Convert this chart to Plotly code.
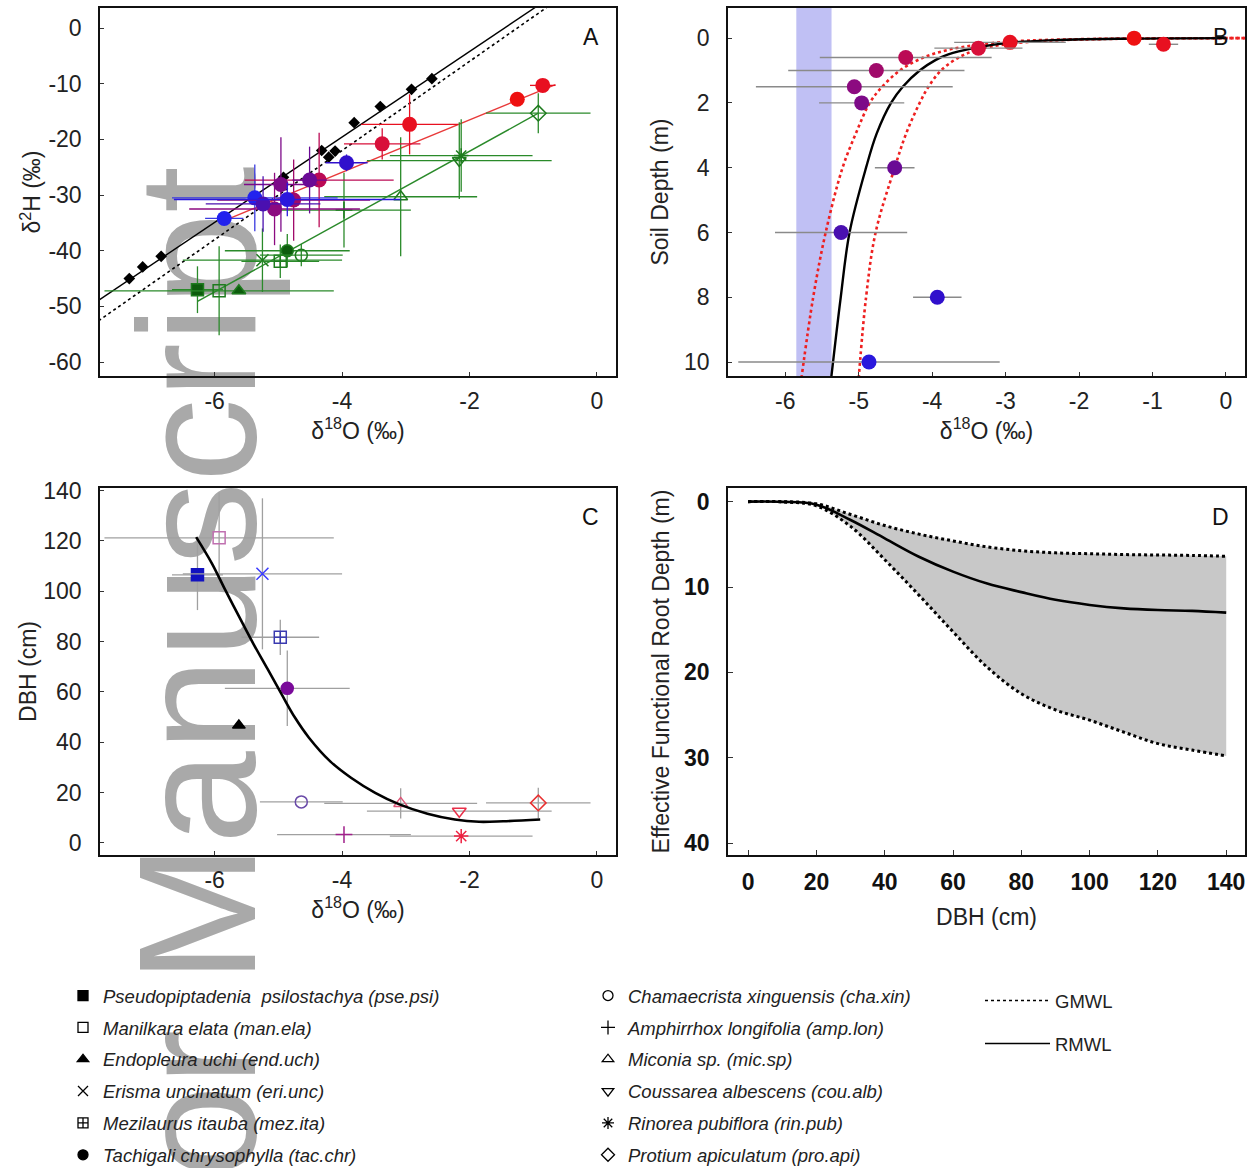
import plotly.graph_objects as go

# ---------------- Data ----------------
# Soil water profile (panels A and B)
soil_depth = [0.0, 0.19, 0.13, 0.31, 0.6, 1.0, 1.5, 2.0, 4.0, 6.0, 8.0, 10.0]
soil_d18O = [-1.25, -0.85, -2.94, -3.37, -4.36, -4.76, -5.06, -4.96, -4.51, -5.24, -3.93, -4.86]
soil_d18O_err = [0.0, 0.2, 0.76, 0.6, 1.17, 1.2, 1.34, 0.58, 0.27, 0.9, 0.33, 1.78]
soil_d2H = [-12.8, -10.3, -17.3, -20.8, -27.3, -30.9, -32.5, -28.1, -27.3, -31.6, -24.2, -30.8]
soil_d2H_err = [0.0, 0.0, 5.4, 2.8, 8.5, 7.3, 6.5, 8.5, 6.0, 5.0, 1.5, 3.0]
soil_colors = ['#ee1111', '#e81020', '#e81020', '#d8103a', '#bb0a55', '#a00a6a', '#8c0a80',
               '#7d0a88', '#6a0a95', '#4a10b0', '#3010cc', '#2a18dd']

# Groundwater (panel A points, panel B band)
gw_d18O = [-5.85, -5.37]
gw_d2H = [-34.2, -30.5]
gw_d18O_err = [0.3, 1.3]
gw_d2H_err = [1.0, 6.0]

# Precipitation samples (panel A)
precip_d18O = [-7.34, -7.13, -6.84, -4.92, -4.32, -4.21, -4.11, -3.81, -3.40, -2.91, -2.59]
precip_d2H = [-45.0, -42.9, -41.0, -26.8, -22.0, -23.2, -22.1, -17.0, -14.1, -11.0, -9.1]

# Meteoric water lines and fits (panel A)
gmwl_x = [-7.9, -0.6]
gmwl_y = [-53.2, 5.2]
rmwl_x = [-7.9, -0.8]
rmwl_y = [-49.5, 5.0]
soil_fit_x = [-5.83, -0.65]
soil_fit_y = [-34.5, -10.15]
xylem_fit_x = [-6.27, -0.92]
xylem_fit_y = [-49.1, -15.3]

# Species (xylem water, panels A and C)
species_names = ["Pseudopiptadenia\u00a0 psilostachya (pse.psi)", "Manilkara elata (man.ela)",
                 "Endopleura uchi (end.uch)", "Erisma uncinatum (eri.unc)",
                 "Mezilaurus itauba (mez.ita)", "Tachigali chrysophylla (tac.chr)",
                 "Chamaecrista xinguensis (cha.xin)", "Amphirrhox longifolia (amp.lon)",
                 "Miconia sp. (mic.sp)", "Coussarea albescens (cou.alb)",
                 "Rinorea pubiflora (rin.pub)", "Protium apiculatum (pro.api)"]
species_symbols = ['square', 'square-open', 'triangle-up', 'x-thin-open', 'square-cross-open', 'circle',
                   'circle-open', 'cross-thin-open', 'triangle-up-open', 'triangle-down-open',
                   'asterisk-open', 'diamond-open']
xyl_d18O = [-6.27, -5.93, -5.62, -5.25, -4.97, -4.86, -4.64, -3.97, -3.08, -2.16, -2.13, -0.92]
xyl_d18O_err = [0.4, 1.8, 0.0, 1.25, 0.61, 0.98, 0.65, 1.05, 1.2, 1.45, 1.12, 0.82]
xyl_d2H = [-47.0, -47.2, -47.2, -41.7, -41.9, -40.0, -40.8, -32.7, -30.3, -23.8, -22.9, -15.3]
xyl_d2H_err = [4.2, 8.0, 0.0, 5.7, 3.0, 3.0, 2.0, 6.7, 10.7, 6.9, 6.5, 3.6]
dbh = [106.5, 121.2, 46.7, 106.9, 81.7, 61.4, 16.3, 3.3, 15.7, 12.6, 2.7, 15.9]
dbh_err = [14.0, 18.0, 0.0, 30.0, 7.0, 15.0, 0.0, 0.0, 6.0, 0.0, 0.0, 6.0]
species_colors = ['#1212c0', '#c070b0', '#000000', '#3a3aff', '#3a3ab0', '#7a0a9a',
                  '#6a4aa8', '#a0208a', '#dd5577', '#e8304a', '#ee2040', '#e83030']

# Panel B model curves (depth vs d18O)
b_mean_depth = [10.5, 8.0, 6.0, 4.0, 2.95, 2.0, 1.5, 1.0, 0.67, 0.5, 0.31, 0.155, 0.07, 0.02, 0.0]
b_mean_d18O = [-5.375, -5.245, -5.125, -4.90, -4.756, -4.56, -4.40, -4.17, -3.95, -3.78, -3.44, -3.0, -2.42, -1.44, 0.0]
b_lo_depth = [10.5, 8.0, 6.0, 4.0, 2.95, 2.0, 1.5, 1.0, 0.6, 0.36, 0.21, 0.10, 0.03, 0.0]
b_lo_d18O = [-5.78, -5.62, -5.45, -5.22, -5.04, -4.85, -4.68, -4.44, -4.12, -3.78, -3.39, -2.90, -1.93, 0.27]
b_hi_depth = [10.5, 8.0, 6.0, 4.0, 2.95, 2.0, 1.5, 1.0, 0.6, 0.36, 0.19, 0.08, 0.02, 0.0]
b_hi_d18O = [-5.0, -4.90, -4.77, -4.51, -4.355, -4.17, -4.05, -3.88, -3.64, -3.39, -3.0, -2.42, -1.44, 0.27]

# Panel C fitted curve
c_curve_d18O = [-6.29, -6.04, -5.83, -5.61, -5.39, -5.17, -4.95, -4.74, -4.52, -4.19, -3.86,
                -3.48, -3.10, -2.66, -2.23, -1.85, -1.47, -0.89]
c_curve_dbh = [121.5, 110.9, 100.3, 89.6, 79.0, 69.1, 59.1, 49.8, 41.8, 32.5, 25.9,
               19.9, 15.3, 11.6, 9.3, 8.4, 8.6, 9.3]

# Panel D: effective functional root depth vs DBH
d_dbh = [0, 10, 20, 30, 40, 50, 60, 70, 80, 90, 100, 110, 120, 130, 140]
d_median = [0.0, 0.02, 0.35, 2.15, 4.3, 6.45, 8.2, 9.6, 10.6, 11.5, 12.1, 12.5, 12.7, 12.8, 13.0]
d_shallow = [0.0, 0.0, 0.25, 1.5, 2.8, 3.8, 4.6, 5.3, 5.75, 6.0, 6.1, 6.2, 6.25, 6.3, 6.4]
d_deep = [0.0, 0.03, 0.5, 2.9, 6.8, 10.95, 15.25, 19.4, 22.5, 24.4, 25.6, 27.0, 28.35, 29.1, 29.8]

# Tick values / labels
a_xticks = [-6, -4, -2, 0]
a_xticktext = ['-6', '-4', '-2', '0']
a_yticks = [0, -10, -20, -30, -40, -50, -60]
a_yticktext = ['0', '-10', '-20', '-30', '-40', '-50', '-60']
b_xticks = [-6, -5, -4, -3, -2, -1, 0]
b_xticktext = ['-6', '-5', '-4', '-3', '-2', '-1', '0']
b_yticks = [0, 2, 4, 6, 8, 10]
c_yticks = [0, 20, 40, 60, 80, 100, 120, 140]
d_xticks = [0, 20, 40, 60, 80, 100, 120, 140]
d_yticks = [0, 10, 20, 30, 40]

gw_band_color = 'rgba(140,140,235,0.55)'
watermark_text = "Author Manuscript"

FONT = 'Liberation Sans, Arial, sans-serif'

fig = go.Figure()

# ---------------- Panel A ----------------
fig.add_trace(go.Scatter(x=gmwl_x, y=gmwl_y, mode='lines', line=dict(color='black', width=1.6, dash='dot'),
                         showlegend=False, xaxis='x', yaxis='y'))
fig.add_trace(go.Scatter(x=rmwl_x, y=rmwl_y, mode='lines', line=dict(color='black', width=1.4),
                         showlegend=False, xaxis='x', yaxis='y'))
fig.add_trace(go.Scatter(x=xylem_fit_x, y=xylem_fit_y, mode='lines', line=dict(color='#2a8a2a', width=1.4),
                         showlegend=False, xaxis='x', yaxis='y'))
fig.add_trace(go.Scatter(x=soil_fit_x, y=soil_fit_y, mode='lines', line=dict(color='#e83a3a', width=1.4),
                         showlegend=False, xaxis='x', yaxis='y'))
for i in range(len(xyl_d18O)):
    filled = species_symbols[i] in ('square', 'triangle-up', 'circle')
    fig.add_trace(go.Scatter(
        x=[xyl_d18O[i]], y=[xyl_d2H[i]], mode='markers',
        marker=dict(symbol=species_symbols[i], size=12, color='#0d5c0d' if filled else '#1e7b1e',
                    line=dict(color='#1e7b1e', width=1.5)),
        error_x=dict(type='data', array=[xyl_d18O_err[i]], color='#2a8a2a', thickness=1.3, width=0),
        error_y=dict(type='data', array=[xyl_d2H_err[i]], color='#2a8a2a', thickness=1.3, width=0),
        showlegend=False, xaxis='x', yaxis='y'))
fig.add_trace(go.Scatter(x=precip_d18O, y=precip_d2H, mode='markers',
                         marker=dict(symbol='diamond', size=9, color='black'),
                         showlegend=False, xaxis='x', yaxis='y'))
for i in range(len(gw_d18O)):
    fig.add_trace(go.Scatter(
        x=[gw_d18O[i]], y=[gw_d2H[i]], mode='markers',
        marker=dict(symbol='circle', size=15, color='#2222ee'),
        error_x=dict(type='data', array=[gw_d18O_err[i]], color='#3a3ae0', thickness=1.3, width=0),
        error_y=dict(type='data', array=[gw_d2H_err[i]], color='#3a3ae0', thickness=1.3, width=0),
        showlegend=False, xaxis='x', yaxis='y'))
for i in range(len(soil_d18O)):
    fig.add_trace(go.Scatter(
        x=[soil_d18O[i]], y=[soil_d2H[i]], mode='markers',
        marker=dict(symbol='circle', size=15, color=soil_colors[i]),
        error_x=dict(type='data', array=[soil_d18O_err[i]], color=soil_colors[i], thickness=1.3, width=0),
        error_y=dict(type='data', array=[soil_d2H_err[i]], color=soil_colors[i], thickness=1.3, width=0),
        showlegend=False, xaxis='x', yaxis='y'))

# ---------------- Panel B ----------------
fig.add_shape(type='rect', xref='x2', yref='y2 domain', x0=min(gw_d18O), x1=max(gw_d18O), y0=0, y1=1,
              fillcolor=gw_band_color, line=dict(width=0), layer='below')
fig.add_trace(go.Scatter(x=b_lo_d18O, y=b_lo_depth, mode='lines', line=dict(color='#ee2020', width=2.6, dash='dot', shape='spline'),
                         showlegend=False, xaxis='x2', yaxis='y2'))
fig.add_trace(go.Scatter(x=b_hi_d18O, y=b_hi_depth, mode='lines', line=dict(color='#ee2020', width=2.6, dash='dot', shape='spline'),
                         showlegend=False, xaxis='x2', yaxis='y2'))
fig.add_trace(go.Scatter(x=b_mean_d18O, y=b_mean_depth, mode='lines', line=dict(color='black', width=2.4, shape='spline'),
                         showlegend=False, xaxis='x2', yaxis='y2'))
for i in range(len(soil_d18O)):
    fig.add_trace(go.Scatter(
        x=[soil_d18O[i]], y=[soil_depth[i]], mode='markers',
        marker=dict(symbol='circle', size=15, color=soil_colors[i]),
        error_x=dict(type='data', array=[soil_d18O_err[i]], color='#8a8a8a', thickness=1.4, width=0),
        showlegend=False, xaxis='x2', yaxis='y2'))

# ---------------- Panel C ----------------
for i in range(len(xyl_d18O)):
    fig.add_trace(go.Scatter(
        x=[xyl_d18O[i]], y=[dbh[i]], mode='markers',
        marker=dict(symbol=species_symbols[i], size=12 if i != 2 else 11, color=species_colors[i],
                    line=dict(color=species_colors[i], width=1.5)),
        error_x=dict(type='data', array=[xyl_d18O_err[i]], color='#a0a0a0', thickness=1.3, width=0),
        error_y=dict(type='data', array=[dbh_err[i]], color='#a0a0a0', thickness=1.3, width=0),
        showlegend=False, xaxis='x3', yaxis='y3'))
fig.add_trace(go.Scatter(x=c_curve_d18O, y=c_curve_dbh, mode='lines', line=dict(color='black', width=2.6, shape='spline'),
                         showlegend=False, xaxis='x3', yaxis='y3'))

# ---------------- Panel D ----------------
fig.add_trace(go.Scatter(x=d_dbh, y=d_shallow, mode='lines', line=dict(color='black', width=3, dash='dot', shape='spline'),
                         showlegend=False, xaxis='x4', yaxis='y4'))
fig.add_trace(go.Scatter(x=d_dbh, y=d_deep, mode='lines', line=dict(color='black', width=3, dash='dot', shape='spline'),
                         fill='tonexty', fillcolor='#c8c8c8', showlegend=False, xaxis='x4', yaxis='y4'))
fig.add_trace(go.Scatter(x=d_dbh, y=d_median, mode='lines', line=dict(color='black', width=2.6, shape='spline'),
                         showlegend=False, xaxis='x4', yaxis='y4'))

# ---------------- Legend entries ----------------
for i in range(len(species_names)):
    fig.add_trace(go.Scatter(
        x=[None], y=[None], mode='markers', name=species_names[i],
        marker=dict(symbol=species_symbols[i], size=10, color='black', line=dict(color='black', width=1.3)),
        legend='legend' if i < 6 else 'legend2', legendgroup=species_names[i], xaxis='x', yaxis='y'))
fig.add_trace(go.Scatter(x=[None], y=[None], mode='lines', name='GMWL', line=dict(color='black', width=1.4, dash='dot'),
                         legend='legend3', legendgroup='GMWL', xaxis='x', yaxis='y'))
fig.add_trace(go.Scatter(x=[None], y=[None], mode='lines', name='RMWL', line=dict(color='black', width=1.4),
                         legend='legend3', legendgroup='RMWL', xaxis='x', yaxis='y'))

# ---------------- Watermark ----------------
fig.add_shape(type='rect', xref='paper', yref='paper', x0=0.1236, x1=0.1636, y0=0.2624, y1=0.2924,
              line=dict(width=0), fillcolor='rgba(0,0,0,0)', layer='below',
              label=dict(text=watermark_text, textangle=-90, textposition='middle center',
                         font=dict(size=167, color='#a9a9a9', family=FONT)))

# ---------------- Layout ----------------
W, H = 1259, 1168
def xd(l, r):
    return [l / W, r / W]
def yd(t, b):
    return [1 - b / H, 1 - t / H]

axis_common = dict(showline=True, linecolor='#111111', linewidth=1.5, mirror=True, ticks='inside', ticklen=4,
                   tickcolor='#333333', showgrid=False, zeroline=False,
                   tickfont=dict(size=23, family=FONT, color='#222222'))
title_font = dict(size=23, family=FONT, color='#222222')
letter_font = dict(size=23, family=FONT, color='#111111')

fig.update_layout(
    width=W, height=H, margin=dict(l=0, r=0, t=0, b=0, autoexpand=False),
    paper_bgcolor='white', plot_bgcolor='rgba(0,0,0,0)',
    font=dict(family=FONT, color='#222222'),
    xaxis=dict(**axis_common, domain=xd(100, 616), range=[-7.8, 0.3], tickvals=a_xticks, ticktext=a_xticktext,
               ticklabelstandoff=4, anchor='y',
               title=dict(text='δ<sup>18</sup>O (‰)', font=title_font, standoff=8)),
    yaxis=dict(**axis_common, domain=yd(8, 376), range=[-62.5, 3.6], tickvals=a_yticks, ticktext=a_yticktext,
               ticklabelstandoff=12, anchor='x',
               title=dict(text='δ<sup>2</sup>H (‰)', font=title_font, standoff=1)),
    xaxis2=dict(**axis_common, domain=xd(728, 1245), range=[-6.78, 0.26], tickvals=b_xticks, ticktext=b_xticktext,
                ticklabelstandoff=4, anchor='y2',
                title=dict(text='δ<sup>18</sup>O (‰)', font=title_font, standoff=8)),
    yaxis2=dict(**axis_common, domain=yd(8, 376), range=[10.43, -0.93], tickvals=b_yticks,
                ticklabelstandoff=12, anchor='x2',
                title=dict(text='Soil Depth (m)', font=title_font, standoff=9)),
    xaxis3=dict(**axis_common, domain=xd(100, 616), range=[-7.8, 0.3], tickvals=a_xticks, ticktext=a_xticktext,
                ticklabelstandoff=4, anchor='y3',
                title=dict(text='δ<sup>18</sup>O (‰)', font=title_font, standoff=8)),
    yaxis3=dict(**axis_common, domain=yd(488, 855), range=[-4.8, 141], tickvals=c_yticks,
                ticklabelstandoff=12, anchor='x3',
                title=dict(text='DBH (cm)', font=title_font, standoff=0)),
    xaxis4=dict(showline=True, linecolor='#111111', linewidth=1.5, mirror=True, ticks='inside', ticklen=5,
                tickcolor='#333333', showgrid=False, zeroline=False,
                tickfont=dict(size=23, family=FONT, color='#111111', weight='bold'),
                domain=xd(728, 1245), range=[-5.9, 145.5], tickvals=d_xticks,
                ticklabelstandoff=6, anchor='y4',
                title=dict(text='DBH (cm)', font=title_font, standoff=15)),
    yaxis4=dict(showline=True, linecolor='#111111', linewidth=1.5, mirror=True, ticks='inside', ticklen=5,
                tickcolor='#333333', showgrid=False, zeroline=False,
                tickfont=dict(size=23, family=FONT, color='#111111', weight='bold'),
                domain=yd(488, 855), range=[41.4, -1.6], tickvals=d_yticks,
                ticklabelstandoff=12, anchor='x4',
                title=dict(text='Effective Functional Root Depth (m)', font=title_font, standoff=8)),
    legend=dict(x=63 / W, y=1 - 977 / H, xanchor='left', yanchor='top', bgcolor='rgba(0,0,0,0)',
                font=dict(size=18.5, family=FONT, color='#222222', style='italic'),
                tracegroupgap=4.8, itemwidth=30),
    legend2=dict(x=588 / W, y=1 - 977 / H, xanchor='left', yanchor='top', bgcolor='rgba(0,0,0,0)',
                 font=dict(size=18.5, family=FONT, color='#222222', style='italic'),
                 tracegroupgap=4.8, itemwidth=30),
    legend3=dict(x=980 / W, y=1 - 982 / H, xanchor='left', yanchor='top', bgcolor='rgba(0,0,0,0)',
                 font=dict(size=18.5, family=FONT, color='#222222'),
                 tracegroupgap=16, itemwidth=65),
    annotations=[
        dict(text='A', xref='x domain', yref='y domain', x=0.951, y=0.921, xanchor='center', yanchor='middle',
             showarrow=False, font=letter_font),
        dict(text='B', xref='x2 domain', yref='y2 domain', x=0.952, y=0.921, xanchor='center', yanchor='middle',
             showarrow=False, font=letter_font),
        dict(text='C', xref='x3 domain', yref='y3 domain', x=0.951, y=0.921, xanchor='center', yanchor='middle',
             showarrow=False, font=letter_font),
        dict(text='D', xref='x4 domain', yref='y4 domain', x=0.952, y=0.921, xanchor='center', yanchor='middle',
             showarrow=False, font=letter_font),
    ],
)

fig.write_html('out.html')
